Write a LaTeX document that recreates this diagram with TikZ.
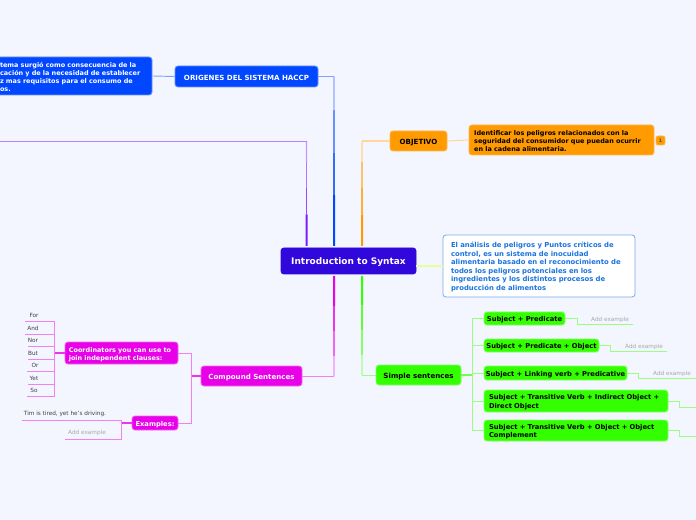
\documentclass[tikz,border=0pt]{standalone}
\usepackage{fontspec}
\usepackage{xcolor}
\usetikzlibrary{calc}
\setmainfont{DejaVu Sans}
\definecolor{pagebg}{HTML}{F4F6FF}
\definecolor{rootcol}{HTML}{3008DC}
\definecolor{blueA}{HTML}{0047FF}
\definecolor{purpleA}{HTML}{7A1CFF}
\definecolor{orangeA}{HTML}{FF9A00}
\definecolor{limeA}{HTML}{E6FF9E}
\definecolor{greenA}{HTML}{33FF00}
\definecolor{magentaA}{HTML}{E800E8}
\definecolor{skyA}{HTML}{1A73E0}
% four stacked pieces, strong end first
\newcommand{\branchline}[3]{
    \draw[#3, line width=1.5pt] (#1) -- ($(#1)!0.3!(#2)$);
    \draw[#3!80!white, line width=1.3pt] ($(#1)!0.3!(#2)$) -- ($(#1)!0.55!(#2)$);
    \draw[#3!60!white, line width=1.1pt] ($(#1)!0.55!(#2)$) -- ($(#1)!0.8!(#2)$);
    \draw[#3!45!white, line width=1pt] ($(#1)!0.8!(#2)$) -- (#2);
}

\begin{document}
\begin{tikzpicture}[
    x=0.75pt, y=-0.75pt,
    topic/.style={
        draw,
        rounded corners=2.2pt,
        align=center,
        inner sep=0pt,
        line width=0.6pt,
        text height=5.7pt,
        font=\fontsize{5.05}{6.2}\selectfont\bfseries
    },
    title/.style={font=\fontsize{5.3}{6.2}\selectfont\bfseries},
    small/.style={font=\fontsize{4.85}{6}\selectfont\bfseries},
    bluebox/.style={topic, fill=blueA, draw=blueA!60!white, text=white},
    orangebox/.style={topic, fill=orangeA, draw=orangeA!70!white, text=black},
    greenbox/.style={topic, fill=greenA, draw=greenA!60!white, text=black},
    pinkbox/.style={topic, fill=magentaA, draw=magentaA!60!white, text=white},
    leaf/.style={inner sep=0pt, text=black!75, font=\fontsize{4.3}{5}\selectfont},
    addex/.style={inner sep=0pt, text=black!35, font=\fontsize{4.3}{5}\selectfont},
    blueline/.style={draw=blueA!50!white, line width=0.7pt},
    orangeline/.style={draw=orangeA!40!white, line width=0.8pt},
    limeline/.style={draw=limeA, line width=0.8pt},
    greenline/.style={draw=greenA!50!white, line width=0.7pt},
    pinkline/.style={draw=magentaA!50!white, line width=0.7pt},
    purpleline/.style={draw=purpleA!55!white, line width=0.7pt}
]
\useasboundingbox (0,0) rectangle (696,520);
\fill[pagebg] (0,0) rectangle (696,520);

% centre
\node[topic, fill=rootcol, draw=rootcol, text=white, minimum width=101.25pt, minimum height=19.5pt, text height=7.2pt, font=\fontsize{6.75}{9}\selectfont\bfseries] (root) at (348.5,261) {Introduction to Syntax};

% blue branch
\node[bluebox, title, minimum width=107.25pt, minimum height=15.75pt] (origenes) at (246.5,76.5) {ORIGENES DEL SISTEMA HACCP};
\node[bluebox, small, minimum width=117.75pt, minimum height=28.5pt, align=left, text width=110.25pt] (sistema) at (73.5,76) {tema surgió como consecuencia de la\\cación y de la necesidad de establecer\\z mas requisitos para el consumo de\\os.};

% orange branch
\node[orangebox, title, minimum width=42.75pt, minimum height=15pt] (objetivo) at (418.5,141) {OBJETIVO};
\node[orangebox, small, minimum width=138.75pt, minimum height=22.5pt, align=left, text width=131pt] (identificar) at (561.5,140) {Identificar los peligros relacionados con la\\seguridad del consumidor que puedan ocurrir\\en la cadena alimentaria.};
\node[orangebox, rounded corners=1.5pt, minimum width=6.75pt, minimum height=6.75pt, text height=3pt, font=\fontsize{3.5}{4}\selectfont\bfseries, text=black!70] (badge) at (660.5,140.5) {1};

% white box
\node[topic, fill=white, draw=skyA!60!white, text=skyA, minimum width=144pt, minimum height=46.5pt, align=left, text width=132pt, font=\fontsize{5.15}{6.4}\selectfont\bfseries] (analisis) at (539,266) {El análisis de peligros y Puntos críticos de\\control, es un sistema de inocuidad\\alimentaria basado en el reconocimiento de\\todos los peligros potenciales en los\\ingredientes y los distintos procesos de\\producción de alimentos};

% green branch
\node[greenbox, title, minimum width=63.75pt, minimum height=15pt] (simple) at (418.5,375) {Simple sentences};
\node[greenbox, minimum width=60.75pt, minimum height=9.75pt] (predicate) at (524.5,318.5) {Subject + Predicate};
\node[greenbox, minimum width=86.25pt, minimum height=9.75pt] (predobject) at (541.5,345.5) {Subject + Predicate + Object};
\node[greenbox, minimum width=107.25pt, minimum height=10.5pt] (linking) at (555.5,373) {Subject + Linking verb + Predicative};
\node[greenbox, minimum width=138pt, minimum height=16.5pt, align=left, text width=130.5pt] (transitive) at (576,401) {Subject + Transitive Verb + Indirect Object +\\Direct Object};
\node[greenbox, minimum width=138pt, minimum height=15.75pt, align=left, text width=130.5pt] (complement) at (576,430.5) {Subject + Transitive Verb + Object + Object\\Complement};

\node[addex] (addone) at (610,319.7) {Add example};
\node[addex] (addtwo) at (644,346.7) {Add example};
\node[addex] (addthree) at (672,373.7) {Add example};

% pink branch
\node[pinkbox, title, minimum width=75.75pt, minimum height=15pt] (compound) at (251.5,376) {Compound Sentences};
\node[pinkbox, small, minimum width=84.75pt, minimum height=16.5pt, align=left, text width=79pt] (coord) at (121.5,353) {Coordinators you can use to\\join independent clauses:};
\node[pinkbox, minimum width=34.5pt, minimum height=10.5pt] (examples) at (155,423) {Examples:};

\node[leaf] (for) at (34,315) {For};
\node[leaf] (and) at (33,328) {And};
\node[leaf] (nor) at (33,340) {Nor};
\node[leaf] (but) at (33,353) {But};
\node[leaf] (or) at (35,365) {Or};
\node[leaf] (yet) at (34,378) {Yet};
\node[leaf] (so) at (34,390) {So};
\node[leaf] (tim) at (65,414) {Tim is tired, yet he's driving.};
\node[addex] (addfour) at (87,433) {Add example};

% trunks off the centre
\coordinate (bluetop) at (334,246);
\coordinate (bluemid) at (334,76.5);
\coordinate (purpletop) at (306.5,246);
\coordinate (purplemid) at (306.5,141);
\coordinate (purpleend) at (0,141);
\coordinate (orangetop) at (362,246);
\coordinate (orangemid) at (362,141);
\coordinate (greentop) at (362,276);
\coordinate (greenmid) at (362,375);
\coordinate (pinktop) at (334,276);
\coordinate (pinkmid) at (334,376);

\branchline{bluetop}{bluemid}{blueA}
\branchline{purpletop}{purplemid}{purpleA}
\branchline{orangetop}{orangemid}{orangeA}
\branchline{greentop}{greenmid}{greenA}
\branchline{pinktop}{pinkmid}{magentaA}

\draw[blueline] (bluemid) -- (origenes.east);
\draw[blueline] (origenes.west) -- (sistema.east);
\draw[purpleline] (purplemid) -- (purpleend);
\draw[orangeline] (orangemid) -- (objetivo.west);
\draw[orangeline] (objetivo.east) -- (identificar.west);
\draw[limeline] (root.east |- analisis.west) -- (analisis.west);
\draw[greenline] (greenmid) -- (simple.west);
\draw[pinkline] (pinkmid) -- (compound.east);

% green children
\coordinate (greenbus) at (472,375);
\draw[greenA!70!white, line width=0.9pt] (simple.east) -- (greenbus);
\draw[greenline] (greenbus) |- (predicate.west);
\draw[greenline] (greenbus) |- (predobject.west);
\draw[greenline] (greenbus) |- (linking.west);
\draw[greenline] (greenbus) |- (transitive.west);
\draw[greenline] (greenbus) |- (complement.west);

\coordinate (endone) at (633,324.5);
\coordinate (endtwo) at (667,351.5);
\coordinate (endthree) at (696,378.5);
\coordinate (endfour) at (696,407);
\coordinate (endfive) at (696,436.5);
\draw[greenline] (predicate.east) -- (577,318.5) -- (577,324.5) -- (endone);
\draw[greenline] (predobject.east) -- (610,345.5) -- (610,351.5) -- (endtwo);
\draw[greenline] (linking.east) -- (638,373) -- (638,378.5) -- (endthree);
\draw[greenline] (transitive.east) -- (679,401) -- (679,407) -- (endfour);
\draw[greenline] (complement.east) -- (679,430.5) -- (679,436.5) -- (endfive);

% pink children
\coordinate (pinkbus) at (191,376);
\draw[magentaA!80!white, line width=0.9pt] (compound.west) -- (pinkbus);
\draw[pinkline] (pinkbus) |- (coord.east);
\draw[pinkline] (pinkbus) |- (examples.east);

\coordinate (coordbus) at (54.5,353);
\draw[magentaA!80!white, line width=0.9pt] (coord.west) -- (coordbus);
\coordinate (forend) at (25,321.5);
\coordinate (andend) at (25,334);
\coordinate (norend) at (28,346.5);
\coordinate (butend) at (28,359);
\coordinate (orend) at (27,371.5);
\coordinate (yetend) at (28,384);
\coordinate (soend) at (27,396.5);
\draw[pinkline] (coordbus) |- (forend);
\draw[pinkline] (coordbus) |- (andend);
\draw[pinkline] (coordbus) |- (norend);
\draw[pinkline] (coordbus) |- (butend);
\draw[pinkline] (coordbus) |- (orend);
\draw[pinkline] (coordbus) |- (yetend);
\draw[pinkline] (coordbus) |- (soend);

\coordinate (exbus) at (121,423);
\coordinate (timend) at (22,420);
\coordinate (addend) at (65,439);
\draw[magentaA!80!white, line width=0.9pt] (examples.west) -- (exbus);
\draw[pinkline] (exbus) |- (timend);
\draw[pinkline] (exbus) |- (addend);
\end{tikzpicture}
\end{document}
